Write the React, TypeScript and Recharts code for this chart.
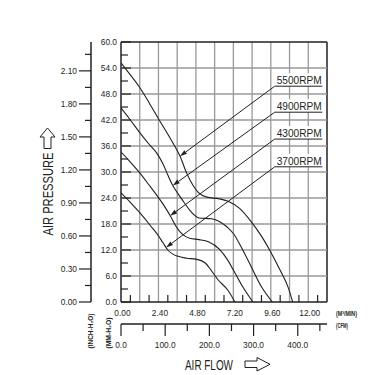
import React from 'react';
import { LineChart, Line, XAxis, YAxis, ReferenceLine } from 'recharts';

const FONT = "'Liberation Sans', 'DejaVu Sans', Arial, sans-serif";
const INK = '#231f20';
const GRID = '#9a9a9a';

// air flow (m³/min) vs static pressure (mm-H2O)
const flow5500 = [0, 0.6, 1.2, 1.8, 2.4, 3.2, 3.8, 4.2, 4.6, 4.95, 5.5, 6.3, 6.9, 7.6, 8.35, 9.0, 9.6, 10.2, 10.7, 11.0];
const pres5500 = [55.2, 52.4, 49.5, 46.0, 42.3, 37.5, 33.5, 29.8, 27.0, 25.3, 24.2, 23.8, 23.2, 21.6, 18.5, 15.2, 11.5, 7.3, 3.5, 0];

const flow4900 = [0, 0.6, 1.2, 1.8, 2.3, 2.7, 3.0, 3.3, 3.65, 4.0, 4.5, 5.0, 5.8, 6.3, 6.8, 7.2, 7.8, 8.35, 9.0, 9.7];
const pres4900 = [44.8, 42.0, 39.1, 36.4, 34.3, 31.8, 29.3, 27.0, 25.0, 23.2, 20.8, 19.4, 19.2, 18.6, 17.3, 15.8, 12.0, 8.1, 3.5, 0];

const flow4300 = [0, 0.6, 1.2, 1.8, 2.4, 2.8, 3.2, 3.5, 3.8, 4.1, 4.4, 5.0, 5.6, 6.3, 6.85, 7.2, 7.8, 8.45];
const pres4300 = [34.6, 32.3, 29.8, 27.0, 24.1, 22.0, 19.6, 17.6, 16.1, 15.2, 14.7, 14.4, 13.9, 12.2, 9.6, 7.4, 3.5, 0];

const flow3700 = [0, 0.6, 1.2, 1.8, 2.4, 2.7, 3.0, 3.3, 3.6, 4.2, 4.8, 5.4, 5.8, 6.2, 6.85, 7.3];
const pres3700 = [25.2, 23.0, 20.6, 18.0, 15.3, 13.6, 12.0, 11.1, 10.6, 10.1, 9.9, 9.0, 7.2, 5.2, 2.7, 0];

const rpmNames = ['5500RPM', '4900RPM', '4300RPM', '3700RPM'];
const tagPres = [49.8, 43.8, 37.6, 31.2]; // underline height of each tag
const tagFlow = [9.85, 12.9];
const tipFlow = [3.78, 3.32, 3.15, 2.89]; // where each leader touches its curve

const flowLabels = [0, 2.4, 4.8, 7.2, 9.6, 12];
const cfmLabels = [0, 100, 200, 300, 400];

const FLOW_MAX = 13.2;
const MM_MAX = 60;
const MM_PER_INCH = 25.4;
const CFM_PER_M3 = 35.3147;

const steps = (n: number, d: number) => Array.from({ length: n }, (_, i) => +(i * d).toFixed(2));
const flowTicks = steps(23, 0.6);
const mmTicks = steps(21, 3);
const inchTicks = steps(16, 0.15);
const cfmTicks = steps(10, 50);
const flowGrid = steps(12, 1.2);
const mmGrid = steps(11, 6);

const series = [
  { name: rpmNames[0], flow: flow5500, pres: pres5500 },
  { name: rpmNames[1], flow: flow4900, pres: pres4900 },
  { name: rpmNames[2], flow: flow4300, pres: pres4300 },
  { name: rpmNames[3], flow: flow3700, pres: pres3700 },
].map(s => ({ ...s, data: s.flow.map((x, i) => ({ x, p: s.pres[i] })) }));

// the same top curve in CFM, so the CFM scale has a series of its own
const cfmTrace = series[0].data.map(d => ({ cfm: d.x * CFM_PER_M3, p: d.p }));

const interp = (xs: number[], ys: number[], x: number) => {
  for (let i = 1; i < xs.length; i++) {
    if (x <= xs[i]) {
      const t = (x - xs[i - 1]) / (xs[i] - xs[i - 1]);
      return ys[i - 1] + t * (ys[i] - ys[i - 1]);
    }
  }
  return ys[ys.length - 1];
};

const T = ({ x, y, size = 9.5, anchor = 'middle', sx = 0.88, rot = 0, weight = 400, len, children }: any) => (
  <g transform={`translate(${x},${y}) rotate(${rot}) scale(${len ? 1 : sx},1)`}>
    <text
      x={0}
      y={0}
      fontSize={size}
      textAnchor={anchor}
      fontFamily={FONT}
      fill={INK}
      fontWeight={weight}
      {...(len ? { textLength: len, lengthAdjust: 'spacingAndGlyphs' } : {})}
    >
      {children}
    </text>
  </g>
);

const MmTick = ({ x, y, payload }: any) => {
  const v = payload.value;
  const major = Math.round(v / 3) % 2 === 0;
  return (
    <g>
      <line x1={x} x2={x + (major ? 10 : 7)} y1={y} y2={y} stroke={INK} strokeWidth={1.2} />
      {major && <T x={x - 4} y={y + 3.4} anchor="end">{v.toFixed(1)}</T>}
    </g>
  );
};

const InchTick = ({ x, y, payload }: any) => {
  const v = payload.value;
  const major = Math.round(v / 0.15) % 2 === 0;
  return (
    <g>
      <line x1={x} x2={x - (major ? 12 : 6)} y1={y} y2={y} stroke={INK} strokeWidth={1.2} />
      {major && <T x={x - 14} y={y + 3.4} anchor="end">{v.toFixed(2)}</T>}
    </g>
  );
};

const FlowTick = ({ x, y, payload }: any) => {
  const v = payload.value;
  const minor = Math.round(v / 0.6) % 2 === 1;
  const labelled = flowLabels.some(l => Math.abs(l - v) < 1e-6);
  return (
    <g>
      {minor && <line x1={x} x2={x} y1={y} y2={y - 7} stroke={INK} strokeWidth={1.2} />}
      {labelled && <T x={x + 1.5} y={y + 13.5}>{v.toFixed(2)}</T>}
    </g>
  );
};

const CfmTick = ({ x, y, payload }: any) => {
  const v = payload.value;
  const major = cfmLabels.includes(v);
  return (
    <g>
      <line x1={x} x2={x} y1={y} y2={y + (major ? 12 : 7)} stroke={INK} strokeWidth={1.2} />
      {major && <T x={x} y={y + 24}>{v.toFixed(1)}</T>}
    </g>
  );
};

const Leader = ({ x1, y1, x2, y2 }: any) => {
  const a = Math.atan2(y2 - y1, x2 - x1);
  const L = 7, W = 2.2;
  const bx = x2 - L * Math.cos(a), by = y2 - L * Math.sin(a);
  const px = -Math.sin(a) * W, py = Math.cos(a) * W;
  return (
    <g>
      <line x1={x1} y1={y1} x2={bx} y2={by} stroke={INK} strokeWidth={1} />
      <polygon points={`${x2},${y2} ${bx + px},${by + py} ${bx - px},${by - py}`} fill={INK} />
    </g>
  );
};

const makeTag = (text: string) => ({ x1, y1, x2 }: any) => (
  <g>
    <rect x={x1} y={y1 - 13} width={x2 - x1} height={13} fill="#fff" />
    <line x1={x1} x2={x2} y1={y1} y2={y1} stroke={INK} strokeWidth={1} />
    <T x={x1 + 2} y={y1 - 2} anchor="start" size={11} len={45}>{text}</T>
  </g>
);

export default function App() {
  return (
    <div style={{ position: 'absolute', left: 0, top: 0, width: 376, height: 375, background: '#fff' }}>
      <LineChart width={376} height={375} margin={{ top: 42, right: 49, bottom: 20, left: 0 }}>
        <XAxis
          dataKey="x"
          type="number"
          domain={[0, FLOW_MAX]}
          ticks={flowTicks}
          interval={0}
          height={22}
          axisLine={false}
          tickLine={false}
          tickSize={0}
          tickMargin={0}
          tick={FlowTick}
          allowDataOverflow
        />
        <XAxis
          xAxisId="cfm"
          dataKey="cfm"
          type="number"
          domain={[0, FLOW_MAX * CFM_PER_M3]}
          ticks={cfmTicks}
          interval={0}
          height={31}
          axisLine={{ stroke: INK, strokeWidth: 1.3 }}
          tickLine={false}
          tickSize={0}
          tickMargin={0}
          tick={CfmTick}
          allowDataOverflow
        />
        <YAxis
          type="number"
          domain={[0, MM_MAX]}
          ticks={mmTicks}
          interval={0}
          width={30}
          axisLine={false}
          tickLine={false}
          tickSize={0}
          tickMargin={0}
          tick={MmTick}
          allowDataOverflow
        />
        <YAxis
          yAxisId="inch"
          type="number"
          domain={[0, MM_MAX / MM_PER_INCH]}
          ticks={inchTicks}
          interval={0}
          width={91}
          axisLine={{ stroke: INK, strokeWidth: 1.5 }}
          tickLine={false}
          tickSize={0}
          tickMargin={0}
          tick={InchTick}
          allowDataOverflow
        />

        {flowGrid.map(v => {
          const edge = v === 0 || v === FLOW_MAX;
          return <ReferenceLine key={'gx' + v} x={v} stroke={edge ? INK : GRID} strokeWidth={edge ? 1.5 : 1.3} ifOverflow="visible" />;
        })}
        {mmGrid.map(v => {
          const edge = v === 0 || v === MM_MAX;
          return <ReferenceLine key={'gy' + v} y={v} stroke={edge ? INK : GRID} strokeWidth={edge ? 1.5 : 1.3} ifOverflow="visible" />;
        })}

        {series.map(s => (
          <Line
            key={s.name}
            data={s.data}
            dataKey="p"
            type="monotone"
            dot={false}
            stroke={INK}
            strokeWidth={1.1}
            isAnimationActive={false}
          />
        ))}
        <Line
          xAxisId="cfm"
          data={cfmTrace}
          dataKey="p"
          type="monotone"
          dot={false}
          activeDot={false}
          stroke="none"
          strokeWidth={0}
          isAnimationActive={false}
        />

        {series.map((s, i) => (
          <ReferenceLine
            key={'tag' + s.name}
            segment={[{ x: tagFlow[0], y: tagPres[i] }, { x: tagFlow[1], y: tagPres[i] }]}
            shape={makeTag(s.name)}
            ifOverflow="visible"
          />
        ))}
        {series.map((s, i) => (
          <ReferenceLine
            key={'lead' + s.name}
            segment={[
              { x: tagFlow[0], y: tagPres[i] },
              { x: tipFlow[i], y: interp(s.flow, s.pres, tipFlow[i]) },
            ]}
            shape={Leader}
            ifOverflow="visible"
          />
        ))}
      </LineChart>

      <svg width={376} height={375} style={{ position: 'absolute', left: 0, top: 0, pointerEvents: 'none' }}>
        <path d="M47.5 128 L40 137 H44 V148.5 H51 V137 H55 Z" fill="#fff" stroke={INK} strokeWidth={1} />
        <T x={53} y={194} rot={-90} size={15} len={83}>AIR PRESSURE</T>
        <T x={185} y={370} anchor="start" size={15} len={48}>AIR FLOW</T>
        <path d="M245 361 H257 V357.5 L270 364.3 L257 371 V367.5 H245 Z" fill="#fff" stroke={INK} strokeWidth={1} />
        <T x={92.5} y={331} rot={-90} size={6.5} weight={700} len={35}>(INCH-H₂O)</T>
        <T x={111} y={333} rot={-90} size={6.5} weight={700} len={31}>(MM-H₂O)</T>
        <T x={336} y={315.5} anchor="start" size={7} weight={700} len={21}>(M³/MIN)</T>
        <T x={336} y={327.5} anchor="start" size={7} weight={700} len={12}>(CFM)</T>
      </svg>
    </div>
  );
}
